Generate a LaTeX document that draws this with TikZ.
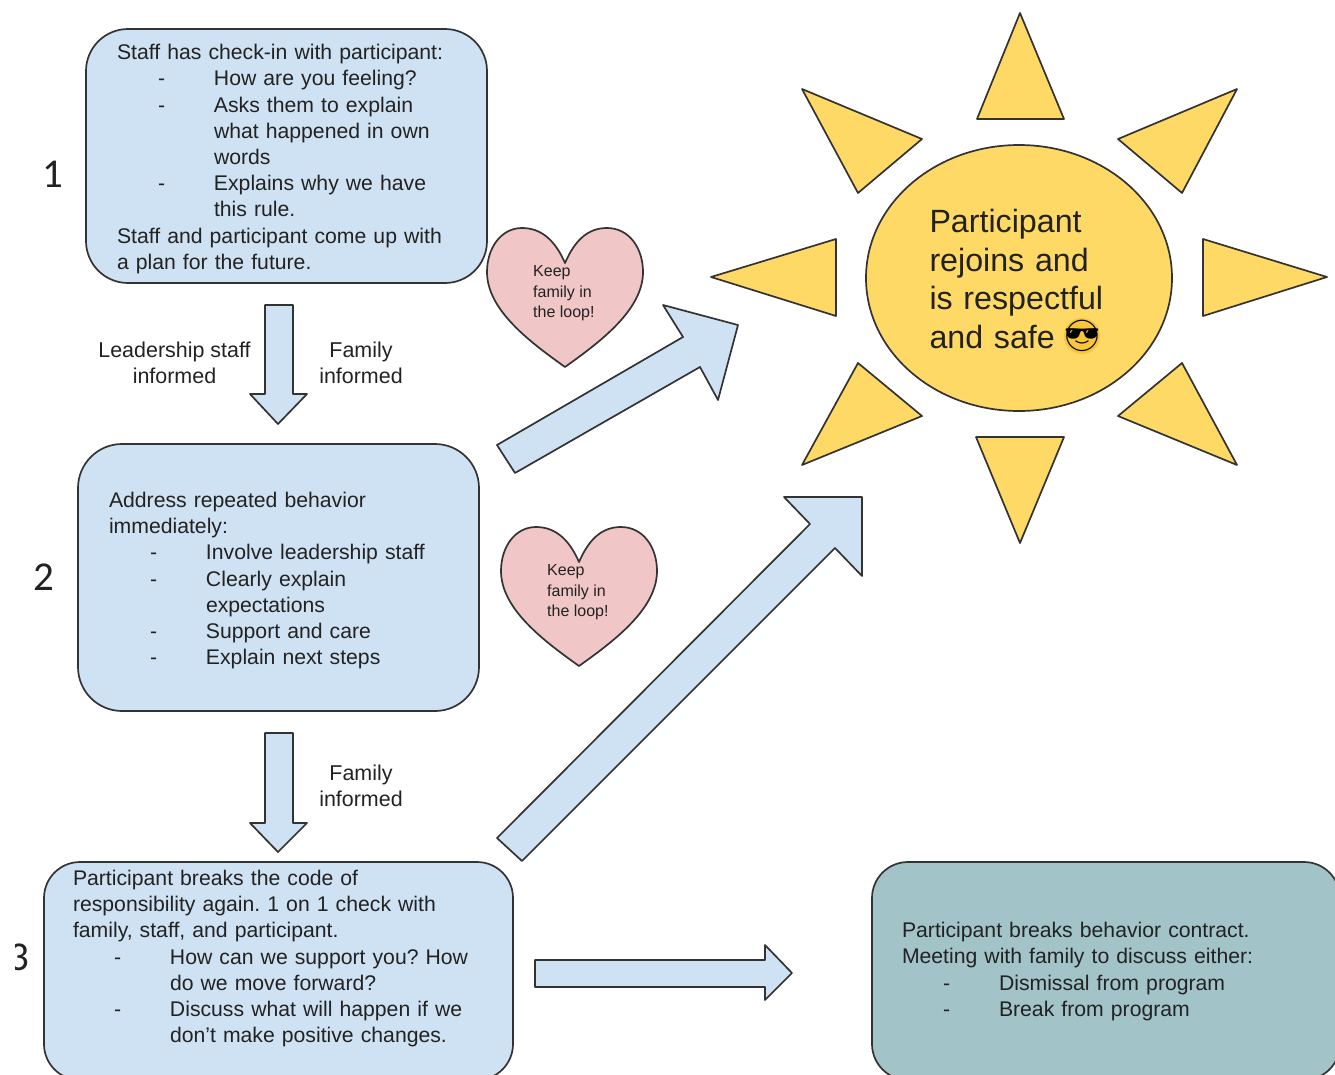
\documentclass[tikz,border=0pt]{standalone}
\usepackage{fontspec}
\setmainfont{Liberation Sans}
\newfontfamily\emojifont{Noto Emoji}
\newfontfamily\numfont{Carlito}
\usetikzlibrary{shapes.geometric}
\frenchspacing
\definecolor{boxblue}{HTML}{CFE2F3}
\definecolor{boxteal}{HTML}{A2C4C9}
\definecolor{sunyellow}{HTML}{FFD966}
\definecolor{heartpink}{HTML}{F0C6C6}
\definecolor{faceyellow}{HTML}{F8C63A}
\definecolor{edgegrey}{HTML}{333333}
\definecolor{inkgrey}{HTML}{222222}
\newcommand{\dashline}[1]{\hspace*{41pt}\makebox[56pt][l]{-}#1}
\newcommand{\moreline}[1]{\hspace*{97pt}#1}
\newcommand{\topgap}{\rule{0pt}{21.5pt}}
\newcommand{\smallgap}{\rule{0pt}{16.5pt}}
\tikzset{
	outline/.style={draw=edgegrey,line width=1.7pt,line join=round},
	bodytext/.style={text=inkgrey,font=\fontsize{21.2}{26.2}\selectfont},
	stepbox/.style={outline,bodytext,rectangle,align=left,inner sep=0pt},
	ray/.style={outline,fill=sunyellow},
	blockarrow/.style={outline,fill=boxblue},
	heartshape/.style={outline,fill=heartpink},
	hearttext/.style={text=inkgrey,align=left,inner sep=0pt,anchor=north west,font=\fontsize{16}{20.4}\selectfont},
	midlabel/.style={text=inkgrey,align=center,inner sep=0pt,font=\fontsize{21.45}{26.2}\selectfont},
	stepnum/.style={text=inkgrey,inner sep=0pt,font=\numfont\fontsize{41}{41}\selectfont}
}
\begin{document}
\begin{tikzpicture}[x=1pt,y=-1pt]
	\useasboundingbox (0,0) rectangle (1335,1074);
	% step boxes
	\node[stepbox,fill=boxblue,rounded corners=42pt,minimum width=401pt,minimum height=254pt,text width=339pt] (box1) at (286.5,156) {\topgap Staff has check-in with participant:\\
		\dashline{How are you feeling?}\\
		\dashline{Asks them to explain}\\
		\moreline{what happened in own}\\
		\moreline{words}\\
		\dashline{Explains why we have}\\
		\moreline{this rule.}\\
		Staff and participant come up with\\
		a plan for the future.};
	\node[stepbox,fill=boxblue,rounded corners=44pt,minimum width=401pt,minimum height=267pt,text width=339pt] (box2) at (278.5,577.5) {\topgap Address repeated behavior\\
		immediately:\\
		\dashline{Involve leadership staff}\\
		\dashline{Clearly explain}\\
		\moreline{expectations}\\
		\dashline{Support and care}\\
		\dashline{Explain next steps}};
	\node[stepbox,fill=boxblue,rounded corners=36pt,minimum width=469pt,minimum height=218pt,text width=411pt] (box3) at (278.5,971) {\smallgap Participant breaks the code of\\
		responsibility again. 1 on 1 check with\\
		family, staff, and participant.\\
		\dashline{How can we support you? How}\\
		\moreline{do we move forward?}\\
		\dashline{Discuss what will happen if we}\\
		\moreline{don't make positive changes.}\\[4pt]
		\mbox{}};
	\node[stepbox,fill=boxteal,rounded corners=36pt,minimum width=468pt,minimum height=218pt,text width=408pt] (box4) at (1106,971) {\smallgap Participant breaks behavior contract.\\
		Meeting with family to discuss either:\\
		\dashline{Dismissal from program}\\
		\dashline{Break from program}};
	% step numbers
	\node[stepnum] (num1) at (53,174) {1};
	\node[stepnum] (num2) at (43.5,577) {2};
	\begin{scope}
		\clip (15,930) rectangle (40,985);
		\node[stepnum] (num3) at (19,957) {3};
	\end{scope}
	% block arrows
	\draw[blockarrow] (265,305) -- (293,305) -- (293,394) -- (307,394) -- (278,424) -- (250,394) -- (265,394) -- cycle;
	\draw[blockarrow] (265,733) -- (293,733) -- (293,823) -- (307,823) -- (278,852) -- (250,823) -- (265,823) -- cycle;
	\draw[blockarrow] (497,445) -- (683,337) -- (663,305) -- (738,325) -- (718,400) -- (700,367) -- (515,473) -- cycle;
	\draw[blockarrow] (497,838) -- (810,524) -- (784,497) -- (862,497) -- (862,576) -- (835,548) -- (522,861) -- cycle;
	\draw[blockarrow] (535,960) -- (765,960) -- (765,945) -- (792,973) -- (765,1000) -- (765,987) -- (535,987) -- cycle;
	% labels beside the arrows
	\node[midlabel] (lead1) at (174.5,363) {Leadership staff\\informed};
	\node[midlabel] (fam1) at (361,363) {Family\\informed};
	\node[midlabel] (fam2) at (361,786) {Family\\informed};
	% hearts
	\foreach \dx/\dy/\hname in {0/0/heartone,14/299/hearttwo}{
		\begin{scope}[xshift=\dx pt,yshift=-\dy pt]
			\draw[heartshape] (565,263) .. controls (555,240) and (541,228) .. (522,228)
				.. controls (501,228) and (487,248) .. (487,272)
				.. controls (487,310) and (530,342) .. (565,367)
				.. controls (600,342) and (643,310) .. (643,272)
				.. controls (643,248) and (629,228) .. (607,228)
				.. controls (588,228) and (575,240) .. (565,263) -- cycle;
			\node[hearttext] (\hname) at (533,265.5) {Keep\\family in\\the loop!};
		\end{scope}
	}
	% sun
	\draw[ray] (1020,13) -- (1064,119) -- (977,119) -- cycle;
	\draw[ray] (976,437) -- (1064,437) -- (1020,543) -- cycle;
	\draw[ray] (711,277) -- (836,239) -- (836,316) -- cycle;
	\draw[ray] (1203,239) -- (1327,277) -- (1203,316) -- cycle;
	\draw[ray] (802,89) -- (922,139) -- (858,193) -- cycle;
	\draw[ray] (1237,89) -- (1182,193) -- (1118,139) -- cycle;
	\draw[ray] (802,465) -- (858,363) -- (922,416) -- cycle;
	\draw[ray] (1237,465) -- (1118,416) -- (1182,363) -- cycle;
	\node[outline,fill=sunyellow,ellipse,inner sep=0pt,minimum width=306pt,minimum height=266pt,text width=179pt,align=left,text=inkgrey,font=\fontsize{32.2}{38.7}\selectfont] (sunface) at (1019,278) {\rule{0pt}{25.5pt}Participant\\rejoins and\\is respectful\\and safe\hspace*{37pt}};
	\node[circle,fill=faceyellow,inner sep=-12pt,minimum size=36pt,font=\emojifont\fontsize{31}{31}\selectfont] (smiley) at (1082,336) {😎};
\end{tikzpicture}
\end{document}
